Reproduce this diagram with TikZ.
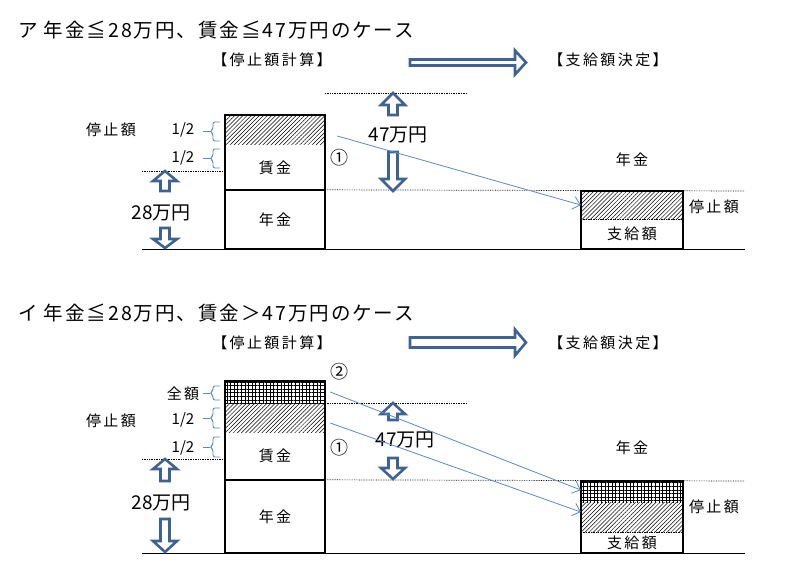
\documentclass[tikz,border=0pt]{standalone}
\usepackage{fontspec}
\setmainfont{Noto Sans CJK JP}
\newfontfamily\titlefont[LetterSpace=10]{Noto Sans CJK JP}
\newfontfamily\widefont[LetterSpace=16]{Noto Sans CJK JP}
\usetikzlibrary{patterns.meta, arrows.meta}
\definecolor{arrblue}{HTML}{3E6292}
\definecolor{lineblue}{HTML}{5A8AC6}
\tikzset{title/.style={anchor=west, inner sep=0pt, font=\titlefont\fontsize{19.5}{22}\selectfont},
         lbl/.style={inner sep=0pt, font=\widefont\fontsize{15}{17}\selectfont},
         num/.style={inner sep=0pt, font=\fontsize{15}{17}\selectfont},
         circ/.style={inner sep=0pt, font=\fontsize{18}{20}\selectfont},
         big/.style={inner sep=0pt, font=\fontsize{19}{21}\selectfont},
         part/.style={minimum width=100, inner sep=0pt, font=\widefont\fontsize{15}{17}\selectfont},
         hatched/.style={pattern={Lines[angle=45,distance=2.9pt,line width=0.5pt]}},
         gridded/.style={pattern={Hatch[angle=0,distance=3.6pt,line width=0.6pt]}},
         frame/.style={line width=2.2pt},
         hollow/.style={draw=arrblue, line width=2.6pt, fill=white, line join=miter},
         conn/.style={lineblue, line width=0.8pt, -{Straight Barb[length=7pt,width=13pt]}},
         guide/.style={densely dotted, line width=0.7pt},
         brc/.style={lineblue, line width=0.9pt, rounded corners=2pt},
        }
% vertical hollow arrow: x, tip y, head base y, shaft end y
\newcommand{\hollowvert}[4]{\draw[hollow] (#1-4.5,#4) -- (#1-4.5,#3) -- (#1-12,#3) -- (#1,#2) -- (#1+12,#3) -- (#1+4.5,#3) -- (#1+4.5,#4) -- cycle;}
% small brace: top y, bottom y, middle y
\newcommand{\tickbrace}[3]{\draw[brc] (220,#1) -- (213,#1) -- (213,#3-2) -- (210,#3) -- (213,#3+2) -- (213,#2) -- (220,#2);
  \draw[brc] (203,#3) -- (210,#3);}

\begin{document}
\begin{tikzpicture}[x=1pt, y=-1pt]
        \useasboundingbox (0,0) rectangle (786,580);

        % ---- case A
        \node[title](titleA)at(18,30){ア 年金≦28万円、賃金≦47万円のケース};
        \node[lbl](calcA)at(272,60){【停止額計算】};
        \node[lbl](decA)at(608,60){【支給額決定】};
        \draw[hollow](410,59.5)--(515,59.5)--(515,50.5)--(526,62.5)--(515,74.5)--(515,65.5)--(410,65.5)--cycle;

        \node[part, hatched, minimum height=30](stopL1)at(275,130){};
        \node[part, minimum height=45](wageL1)at(275,167.5){賃金};
        \node[part, minimum height=59](penL1)at(275,219.5){年金};
        \draw[frame](stopL1.north west) rectangle (penL1.south east);
        \draw[frame](penL1.north west)--(penL1.north east);

        \node[part, hatched, minimum width=102, minimum height=28](stopR1)at(632,205){};
        \node[part, minimum width=102, minimum height=30](payR1)at(632,234){支給額};
        \draw[guide](stopR1.south west)--(stopR1.south east);
        \draw[frame](stopR1.north west) rectangle (payR1.south east);
        \node[lbl](penR1)at(632,160){年金};
        \node[lbl](stopT1)at(714,207){停止額};

        \draw(142,249)--(745,249);
        \draw[guide](142,171)--(wageL1.west |- 0,171);
        \draw[guide](325,93)--(467,93);
        \draw[guide](penL1.north east)--(745,191);

        \node[lbl](stopN1)at(111,130){停止額};
        \node[num](halfA1)at(183,130){1/2};
        \node[num](halfB1)at(183,158){1/2};
        \tickbrace{122}{141}{131.5}
        \tickbrace{149}{168}{158.5}
        \node[circ](one1)at(339,158){①};

        \node[big](m28A)at(161,213){28万円};
        \hollowvert{165}{171}{181}{191}
        \hollowvert{165}{248}{239}{228}
        \node[big](m47A)at(398,135){47万円};
        \hollowvert{393}{93}{105}{115}
        \hollowvert{393}{191}{179}{152}

        \draw[conn]([shift={(12,6)}]stopL1.east)--(stopR1.west);

        % ---- case B
        \node[title](titleB)at(18,313){イ 年金≦28万円、賃金＞47万円のケース};
        \node[lbl](calcB)at(272,343){【停止額計算】};
        \node[lbl](decB)at(608,343){【支給額決定】};
        \draw[hollow](410,337.5)--(515,337.5)--(515,329.5)--(526,342.5)--(515,355.5)--(515,347.5)--(410,347.5)--cycle;

        \node[part, gridded, minimum height=22](allL2)at(275,392){};
        \node[part, hatched, minimum height=29](stopL2)at(275,417.5){};
        \node[part, minimum height=48](wageL2)at(275,456){賃金};
        \node[part, minimum height=73](penL2)at(275,516.5){年金};
        \draw[frame](allL2.north west) rectangle (penL2.south east);
        \draw[frame](penL2.north west)--(penL2.north east);

        \node[part, gridded, minimum width=102, minimum height=21](allR2)at(632,491.5){};
        \node[part, hatched, minimum width=102, minimum height=30](stopR2)at(632,517){};
        \node[part, minimum width=102, minimum height=21](payR2)at(632,542.5){支給額};
        \draw[guide](stopR2.south west)--(stopR2.south east);
        \draw[frame](allR2.north west) rectangle (payR2.south east);
        \node[lbl](penR2)at(632,448){年金};
        \node[lbl](stopT2)at(714,507){停止額};

        \draw(142,553)--(745,553);
        \draw[guide](142,459)--(wageL2.west |- 0,459);
        \draw[guide](325,403)--(467,403);
        \draw[guide](penL2.north east)--(745,481);

        \node[lbl](allN2)at(183,394){全額};
        \node[lbl](stopN2)at(111,421){停止額};
        \node[num](halfA2)at(183,420){1/2};
        \node[num](halfB2)at(183,448){1/2};
        \tickbrace{386}{400}{393}
        \tickbrace{408}{428}{418}
        \tickbrace{437}{457}{447}
        \node[circ](two2)at(339,372){②};
        \node[circ](one2)at(339,448){①};

        \node[big](m28B)at(161,503){28万円};
        \hollowvert{165}{459}{469}{481}
        \hollowvert{165}{552}{541}{519}
        \node[big](m47B)at(405,440){47万円};
        \hollowvert{393}{403}{414}{420}
        \hollowvert{393}{479}{468}{458}

        \draw[conn]([xshift=5]allL2.east)--([yshift=1.5]allR2.west);
        \draw[conn]([shift={(5,5.5)}]stopL2.east)--([yshift=5]stopR2.west);
\end{tikzpicture}
\end{document}
